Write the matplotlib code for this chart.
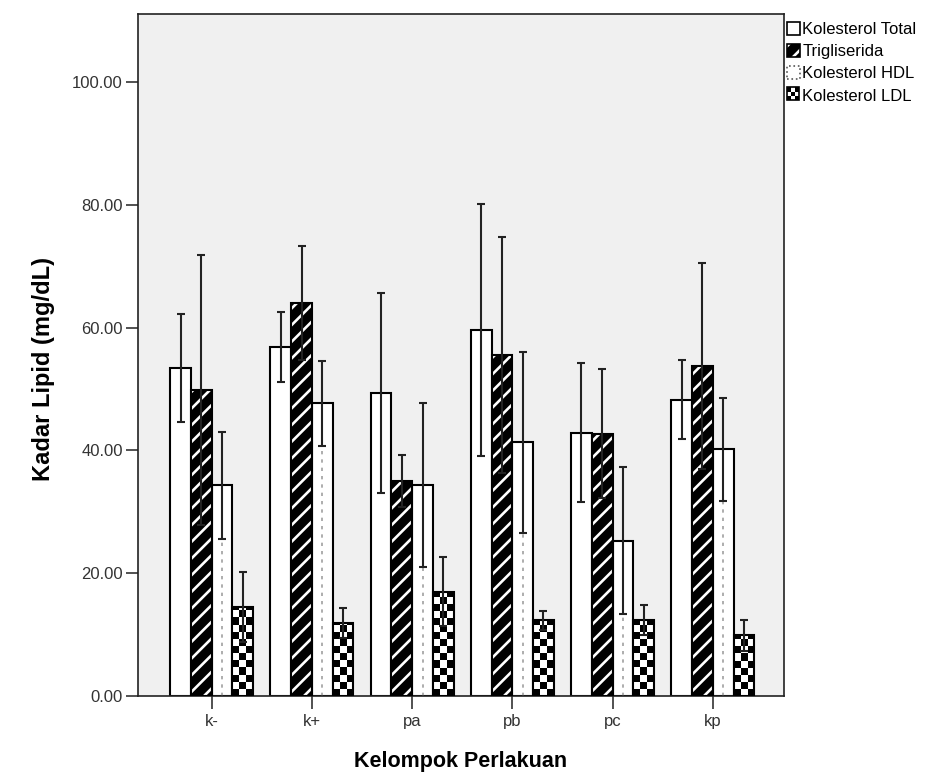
import numpy as np
import matplotlib.pyplot as plt
from matplotlib.patches import Patch, Rectangle
from matplotlib.legend_handler import HandlerBase

plt.rcParams['font.family'] = ['Liberation Sans', 'DejaVu Sans']
plt.rcParams['hatch.linewidth'] = 1.9

groups = ['k-', 'k+', 'pa', 'pb', 'pc', 'kp']
series = ['Kolesterol Total', 'Trigliserida', 'Kolesterol HDL', 'Kolesterol LDL']

# mean values (mg/dL)
total = [53.4, 56.9, 49.4, 59.6, 42.9, 48.3]
trig = [49.9, 64.0, 35.0, 55.6, 42.7, 53.7]
hdl = [34.3, 47.7, 34.4, 41.3, 25.3, 40.2]
ldl = [14.5, 11.9, 17.0, 12.3, 12.4, 9.9]

# error bar half lengths
total_err = [8.8, 5.7, 16.3, 20.5, 11.3, 6.5]
trig_err = [22.0, 9.3, 4.2, 19.2, 10.5, 16.8]
hdl_err = [8.7, 6.9, 13.4, 14.8, 12.0, 8.4]
ldl_err = [5.7, 2.5, 5.6, 1.6, 2.4, 2.5]


class HandlerChecker(HandlerBase):
    # small 3x3 checkerboard for the legend
    def create_artists(self, legend, orig_handle, xd, yd, width, height, fontsize, trans):
        arts = []
        s = min(width, height)
        c = s / 3.0
        for i in range(3):
            for j in range(3):
                col = 'black' if (i + j) % 2 == 0 else 'white'
                arts.append(Rectangle((xd + i * c, yd + j * c), c, c, facecolor=col,
                                      edgecolor='none', transform=trans))
        arts.append(Rectangle((xd, yd), s, s, fill=False, edgecolor='black', lw=1.2, transform=trans))
        return arts


fig = plt.figure(figsize=(9.45, 7.73), dpi=100)
ax = fig.add_axes([138 / 945, 1 - 696 / 773, (784 - 138) / 945, (696 - 14) / 773])
ax.set_facecolor('#f0f0f0')

x = np.arange(len(groups))
w = 0.207
offs = [-1.5, -0.5, 0.5, 1.5]

# Kolesterol Total - plain white
ax.bar(x + offs[0] * w, total, w, color='white', edgecolor='black', lw=1.5, zorder=2)

# Trigliserida - black with white stripes
ax.bar(x + offs[1] * w, trig, w, color='black', edgecolor='white', hatch='//', lw=0, zorder=2)
ax.bar(x + offs[1] * w, trig, w, fill=False, edgecolor='black', lw=1.5, zorder=3)

# Kolesterol HDL - white with dotted centre line
ax.bar(x + offs[2] * w, hdl, w, color='white', edgecolor='black', lw=1.5, zorder=2)
ax.vlines(x + offs[2] * w, 0, hdl, colors='#a0a0a0', linestyles=(0, (2, 3)), lw=1.2, zorder=2.5)

# Kolesterol LDL - checkerboard
cell = 1.15
bars = ax.bar(x + offs[3] * w, ldl, w, fill=False, edgecolor='black', lw=1.5, zorder=3)
for b in bars:
    x0 = b.get_x()
    h = b.get_height()
    nrow = int(np.ceil(h / cell))
    board = np.indices((nrow, 3)).sum(axis=0) % 2
    im = ax.imshow(board, cmap='gray', extent=(x0, x0 + w, 0, nrow * cell), origin='lower',
                   aspect='auto', interpolation='nearest', zorder=2)
    im.set_clip_path(b)

# error bars
for vals, errs, o in [(total, total_err, offs[0]), (trig, trig_err, offs[1]),
                      (hdl, hdl_err, offs[2]), (ldl, ldl_err, offs[3])]:
    ax.errorbar(x + o * w, vals, yerr=errs, fmt='none', ecolor='#222222', elinewidth=1.5,
                capsize=3, capthick=1.5, zorder=4)

ax.set_xlim(-0.735, 5.71)
ax.set_ylim(0, 111.1)
ax.set_xticks(x)
ax.set_xticklabels(groups)
yt = np.arange(0, 101, 20)
ax.set_yticks(yt)
ax.set_yticklabels(['%.2f' % v for v in yt])
ax.tick_params(direction='out', length=9, width=1.2, labelsize=12, colors='#333333', pad=2)
ax.tick_params(axis='x', pad=4)
for sp in ax.spines.values():
    sp.set_color('#222222')
    sp.set_linewidth(1.2)

ax.set_xlabel('Kelompok Perlakuan', fontsize=15.5, fontweight='bold', labelpad=16)
ax.set_ylabel('Kadar Lipid (mg/dL)', fontsize=17, fontweight='bold')
ax.yaxis.set_label_coords(-0.128, 0.48)

handles = [
    Patch(facecolor='white', edgecolor='black', lw=1.2),
    (Patch(facecolor='black', edgecolor='white', hatch='//', lw=0),
     Patch(fill=False, edgecolor='black', lw=1.2)),
    Patch(facecolor='white', edgecolor='#555555', lw=1.2, ls=':'),
    Patch(facecolor='white'),
]
leg = ax.legend(handles, series, loc='upper left', bbox_to_anchor=(1.0, 0.992), frameon=False,
                fontsize=12, handlelength=0.8, handleheight=0.8, handletextpad=0.15,
                labelspacing=0.42, borderaxespad=0.0, borderpad=0.15,
                handler_map={handles[3]: HandlerChecker()})

fig.savefig('out.png', dpi=100)
